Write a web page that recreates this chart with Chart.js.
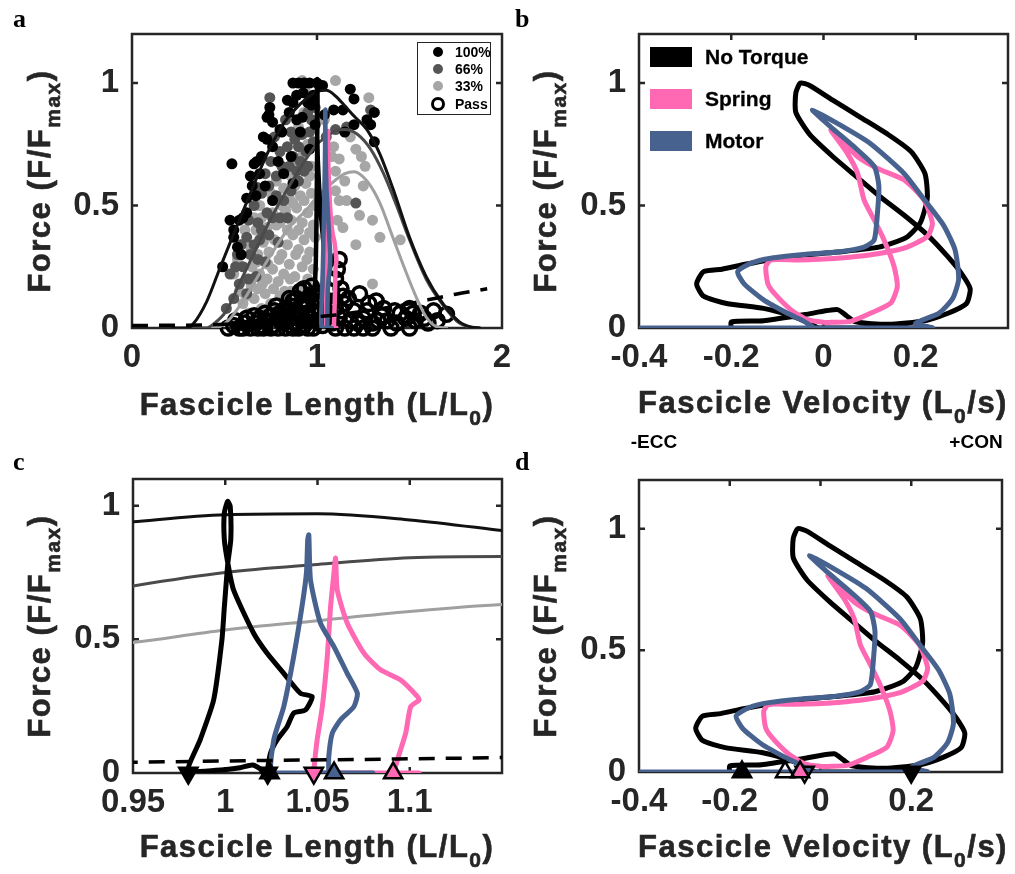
<!DOCTYPE html>
<html>
<head>
<meta charset="utf-8">
<script src="https://cdn.jsdelivr.net/npm/chart.js@4.4.0/dist/chart.umd.min.js"></script>
<style>
  body { margin: 0; background: #fff; }
  #fig { position: relative; width: 1015px; height: 874px; overflow: hidden; font-family: 'Liberation Sans', Arial, sans-serif; color: #262626; }
  canvas { position: absolute; left: 0; top: 0; }
  .t { position: absolute; font-weight: bold; white-space: nowrap; line-height: 1; z-index: 5; -webkit-text-stroke: 0.6px #262626; }
  .xt { font-size: 31px; letter-spacing: 1.5px; transform: translateX(-50%); }
  .yt { font-size: 31px; letter-spacing: 1.5px; transform: translate(-50%, -50%) rotate(-90deg); }
  .sub { font-size: 21px; position: relative; top: 10px; }
  .pan { position: absolute; font: bold 26px 'Liberation Serif', serif; color: #000; z-index: 5; }
  .dir { position: absolute; font-weight: bold; font-size: 19px; color: #000; z-index: 5; transform: translate(-50%, -50%); }
  #legA { position: absolute; left: 417px; top: 42px; width: 72px; height: 71px; border: 1.5px solid #262626; background: #fff; z-index: 5; }
  #legA .it { position: absolute; left: 0; font: bold 14px 'Liberation Sans', sans-serif; color: #000; }
  #legA .dot { position: absolute; border-radius: 50%; }
  #legA .lab { position: absolute; left: 37px; top: -8px; }
  .sw { position: absolute; width: 42px; height: 20px; z-index: 5; }
  .swl { position: absolute; font: bold 21px 'Liberation Sans', sans-serif; color: #000; z-index: 5; transform: translateY(-50%); -webkit-text-stroke: 0.3px #000; }
</style>
</head>
<body>
<div id="fig">
  <canvas id="ca" width="1015" height="874"></canvas>
  <canvas id="cb" width="1015" height="874"></canvas>
  <canvas id="cc" width="1015" height="874"></canvas>
  <canvas id="cd" width="1015" height="874"></canvas>

  <div class="pan" style="left:13px;top:4px">a</div>
  <div class="pan" style="left:515px;top:4px">b</div>
  <div class="pan" style="left:13px;top:447px">c</div>
  <div class="pan" style="left:515px;top:447px">d</div>

  <div class="t xt" style="left:317px;top:389px">Fascicle Length (L/L<span class="sub">0</span>)</div>
  <div class="t xt" style="left:823px;top:387px">Fascicle Velocity (L<span class="sub">0</span>/s)</div>
  <div class="t xt" style="left:317px;top:831px">Fascicle Length (L/L<span class="sub">0</span>)</div>
  <div class="t xt" style="left:823px;top:831px">Fascicle Velocity (L<span class="sub">0</span>/s)</div>

  <div class="t yt" style="left:39px;top:181px">Force (F/F<span class="sub">max</span>)</div>
  <div class="t yt" style="left:545px;top:181px">Force (F/F<span class="sub">max</span>)</div>
  <div class="t yt" style="left:39px;top:626px">Force (F/F<span class="sub">max</span>)</div>
  <div class="t yt" style="left:545px;top:626px">Force (F/F<span class="sub">max</span>)</div>

  <div class="dir" style="left:654px;top:442px">-ECC</div>
  <div class="dir" style="left:976px;top:442px">+CON</div>

  <div id="legA">
    <div class="it" style="top:9px"><div class="dot" style="left:15px;top:-5px;width:10px;height:10px;background:#000"></div><div class="lab">100%</div></div>
    <div class="it" style="top:26px"><div class="dot" style="left:15px;top:-5px;width:10px;height:10px;background:#555"></div><div class="lab">66%</div></div>
    <div class="it" style="top:43px"><div class="dot" style="left:15px;top:-5px;width:10px;height:10px;background:#a6a6a6"></div><div class="lab">33%</div></div>
    <div class="it" style="top:61px"><div class="dot" style="left:13px;top:-7px;width:8px;height:8px;border:3px solid #000"></div><div class="lab">Pass</div></div>
  </div>

  <div class="sw" style="left:650px;top:47px;background:#000"></div>
  <div class="swl" style="left:705px;top:57px">No Torque</div>
  <div class="sw" style="left:650px;top:89px;background:#ff69b4"></div>
  <div class="swl" style="left:705px;top:99px">Spring</div>
  <div class="sw" style="left:650px;top:131px;background:#48628f"></div>
  <div class="swl" style="left:705px;top:141px">Motor</div>
</div>

<script>
// ---- axes ----
const lengthTicksA = [0, 1, 2];
const lengthLabelsA = ['0', '1', '2'];
const lengthTicksC = [0.95, 1, 1.05, 1.1, 1.15];
const lengthLabelsC = ['0.95', '1', '1.05', '1.1', ''];
const velocityTicks = [-0.4, -0.2, 0, 0.2, 0.4];
const velocityLabels = ['-0.4', '-0.2', '0', '0.2', ''];
const forceTicks = [0, 0.5, 1];
const forceLabels = ['0', '0.5', '1'];

// ---- panel a scatter (L/L0, F/Fmax) ----
const act100 = [
  [0.87,1.0],[0.90,1.0],[0.93,1.0],[0.96,1.0],[1.0,1.0],[1.03,0.99],[0.925,0.96],
  [0.84,0.93],[0.89,0.95],[0.95,0.92],[0.98,0.95],[0.97,0.91],
  [1.18,0.975],[1.2,0.935],[1.14,0.89],[1.09,0.89],[1.04,0.87],[1.27,0.85],[1.31,0.88],[1.29,0.83],[1.31,0.76],[1.2,0.83],[1.15,0.80],
  [0.745,0.90],[0.74,0.87],[0.73,0.86],[0.76,0.84],[0.85,0.88],[0.87,0.92],[0.89,0.85],[0.80,0.81],[0.73,0.77],
  [0.71,0.78],[0.76,0.74],[0.81,0.80],[0.91,0.80],[0.96,0.73],[0.86,0.70],[0.82,0.63],[0.99,0.83],[0.92,0.86],
  [0.675,0.68],[0.64,0.62],[0.66,0.67],[0.69,0.63],[0.65,0.58],[0.62,0.53],[0.67,0.54],[0.72,0.58],[0.76,0.52],[0.87,0.59],[0.70,0.70],[0.79,0.68],
  [0.54,0.67],[0.58,0.44],[0.53,0.44],[0.55,0.40],[0.55,0.37],[0.59,0.30],[0.49,0.25],[0.60,0.45],[0.62,0.47],[0.57,0.33]
];
const act66 = [
  [0.745,0.94],[0.95,0.88],[0.97,0.85],[0.96,0.80],[0.98,0.76],[0.94,0.72],[0.90,0.74],[0.87,0.70],[0.85,0.66],[0.91,0.68],[0.88,0.77],[0.93,0.64],[0.99,0.90],[0.83,0.85],[0.77,0.78],
  [1.29,0.89],[1.21,0.51],[1.10,0.81],[1.16,0.82],[1.05,0.78],
  [0.80,0.72],[0.78,0.62],[0.74,0.58],[0.70,0.55],[0.675,0.575],[0.73,0.47],[0.68,0.43],[0.62,0.37],[0.64,0.30],[0.60,0.25],[0.58,0.18],[0.55,0.12],[0.51,0.08],[0.53,0.22],[0.57,0.30],[0.66,0.34],[0.70,0.40],[0.76,0.45],[0.82,0.52],[0.86,0.56],[0.79,0.35],[0.72,0.27],[0.67,0.21],[0.62,0.14],[0.84,0.45],[0.90,0.60],
  [0.56,0.25],[0.59,0.34],[0.63,0.44],[0.66,0.50],[0.69,0.36],[0.72,0.63],[0.75,0.68],[0.78,0.54],[0.81,0.66],[0.84,0.74],[0.86,0.80],[0.89,0.64],[0.92,0.79],[0.95,0.66],[0.97,0.93],[0.63,0.20],[0.68,0.28],[0.74,0.38],[0.80,0.45]
];
const act33 = [
  [0.92,1.01],[1.10,1.01],[1.28,0.94],[0.94,0.96],[1.04,0.85],[1.18,0.78],[1.21,0.73],[1.09,0.74],[1.08,0.70],[1.24,0.70],[1.26,0.66],[1.12,0.69],
  [1.10,0.64],[1.15,0.60],[1.25,0.58],[1.05,0.55],[1.10,0.56],[1.16,0.52],[1.12,0.52],[1.23,0.46],[1.30,0.44],[1.11,0.44],[1.14,0.41],[1.21,0.34],[1.34,0.37],[1.45,0.36],[1.30,0.18],[0.97,0.66],
  [0.60,0.10],[0.63,0.06],[0.66,0.12],[0.70,0.08],[0.68,0.16],[0.72,0.14],[0.75,0.10],[0.78,0.06],[0.80,0.13],[0.83,0.09],[0.86,0.15],[0.88,0.10],[0.91,0.07],[0.94,0.12],[0.97,0.09],
  [0.62,0.20],[0.65,0.25],[0.69,0.22],[0.73,0.20],[0.76,0.24],[0.79,0.19],[0.82,0.22],[0.85,0.26],[0.88,0.21],[0.92,0.25],[0.95,0.20],[0.98,0.24],
  [0.64,0.33],[0.68,0.30],[0.71,0.35],[0.74,0.31],[0.77,0.36],[0.81,0.30],[0.84,0.34],[0.87,0.38],[0.90,0.32],[0.93,0.36],[0.96,0.31],[0.99,0.37],
  [0.70,0.45],[0.73,0.41],[0.76,0.47],[0.80,0.43],[0.83,0.48],[0.86,0.44],[0.89,0.49],[0.92,0.43],[0.95,0.47],[0.98,0.42],
  [0.75,0.55],[0.79,0.52],[0.82,0.57],[0.85,0.53],[0.88,0.58],[0.91,0.54],[0.94,0.59],[0.97,0.55],
  [0.84,0.65],[0.88,0.68],[0.92,0.70],[0.95,0.75],[0.90,0.82],[0.93,0.88],[0.58,0.15],[0.57,0.28],[0.61,0.40],[0.67,0.40],
  [0.615,0.13],[0.645,0.17],[0.675,0.27],[0.705,0.18],[0.735,0.26],[0.765,0.16],[0.795,0.28],[0.825,0.15],[0.855,0.20],[0.885,0.30],[0.915,0.17],[0.945,0.28],[0.975,0.16],
  [0.72,0.38],[0.78,0.42],[0.84,0.40],[0.90,0.40],[0.96,0.39],[0.81,0.50],[0.87,0.51],[0.93,0.52],[0.99,0.50],[0.78,0.60],[0.86,0.62],[0.96,0.62],[0.66,0.45],[0.69,0.50],[0.59,0.34],[0.55,0.22],[0.65,0.04]
];
const passTrials = [
  [0.52,0.0],[0.55,0.01],[0.58,0.0],[0.61,0.02],[0.64,0.0],[0.67,0.02],[0.70,0.01],[0.73,0.03],[0.76,0.01],[0.79,0.04],[0.82,0.02],[0.85,0.05],[0.88,0.02],[0.91,0.06],[0.94,0.03],[0.97,0.07],[1.0,0.03],
  [0.60,0.0],[0.68,0.0],[0.75,0.0],[0.83,0.0],[0.90,0.0],[0.98,0.0],
  [0.80,0.06],[0.83,0.08],[0.86,0.09],[0.89,0.12],[0.93,0.10],[0.96,0.13],[0.99,0.11],[0.91,0.15],[0.88,0.07],[0.94,0.06],
  [0.56,0.03],[0.62,0.04],[0.66,0.05],[0.69,0.04],[0.72,0.06],[0.75,0.05],[0.77,0.07],[0.80,0.03],[0.84,0.04],[0.87,0.11],[0.92,0.09],[0.95,0.10],[0.98,0.14],[0.96,0.04],[0.93,0.01],[0.86,0.01],
  [0.71,0.0],[0.79,0.0],[0.87,0.0],[0.95,0.0],[0.90,0.04],[0.82,0.05],[0.78,0.09],[0.85,0.12],[0.97,0.17],[0.93,0.16],
  [1.02,0.07],[1.04,0.12],[1.03,0.01],[1.07,0.06],[1.09,0.11],[1.14,0.13],[1.13,0.07],[1.17,0.12],[1.22,0.02],[1.27,0.07],[1.33,0.03],[1.36,0.08],[1.43,0.02],[1.52,0.06],[1.58,0.04],[1.65,0.03],[1.63,0.07],
  [1.05,0.05],[1.08,0.02],[1.10,0.08],[1.12,0.04],[1.15,0.10],[1.18,0.03],[1.20,0.07],[1.23,0.14],[1.25,0.04],[1.28,0.10],[1.32,0.11],[1.30,0.02],[1.35,0.05],[1.38,0.03],[1.42,0.07],[1.45,0.06],[1.48,0.04],[1.50,0.08],[1.53,0.03],[1.56,0.06],[1.60,0.02],[1.70,0.056],
  [1.10,0.0],[1.15,0.0],[1.20,0.0],[1.25,0.0],[1.30,0.0],[1.40,0.0],[1.50,0.0],
  [1.12,0.28],[1.11,0.24],[1.10,0.20],[1.08,0.15],[1.06,0.10],[1.13,0.16]
];

// ---- force-length fits ----
const fl100 = [[0.22,0],[0.30,0],[0.33,0.016],[0.405,0.11],[0.476,0.246],[0.55,0.385],[0.64,0.55],[0.73,0.71],[0.82,0.835],[0.91,0.915],[0.95,0.94],[1.0,0.966],[1.05,0.97],[1.1,0.947],[1.15,0.907],[1.2,0.865],[1.27,0.81],[1.34,0.71],[1.41,0.57],[1.5,0.37],[1.59,0.21],[1.68,0.1],[1.77,0.025],[1.84,0.003],[1.88,0]];
const fl66 = [[0.3,0],[0.4,0],[0.44,0.016],[0.51,0.07],[0.58,0.18],[0.675,0.33],[0.76,0.46],[0.85,0.58],[0.95,0.70],[1.0,0.75],[1.05,0.78],[1.1,0.805],[1.15,0.81],[1.22,0.79],[1.29,0.73],[1.36,0.63],[1.43,0.5],[1.5,0.36],[1.59,0.2],[1.68,0.095],[1.77,0.02],[1.84,0.002],[1.88,0]];
const fl33 = [[0.27,0],[0.45,0],[0.52,0.03],[0.6,0.11],[0.68,0.21],[0.76,0.31],[0.85,0.41],[0.95,0.488],[1.0,0.535],[1.05,0.57],[1.1,0.604],[1.15,0.63],[1.2,0.638],[1.27,0.6],[1.34,0.51],[1.41,0.37],[1.47,0.25],[1.54,0.12],[1.59,0.045],[1.64,0.008],[1.7,0]];
const flPassive = [[0,0.01],[0.5,0.015],[0.9,0.036],[1.0,0.045],[1.1,0.053],[1.2,0.063],[1.3,0.074],[1.45,0.092],[1.6,0.115],[1.75,0.138],[1.92,0.16]];

// ---- gait loops: length vs force ----
const lenNoTorque = [[1.0227,0],[1.015,0.03],[1.008,0.02],[0.995,0.01],[0.98,0.01],[0.9864,0.124],[0.9937,0.273],[0.9982,0.498],[0.9995,0.62],[1.0014,0.785],[1.003,0.873],[1.0027,0.997],[1.0013,1.016],[0.9995,0.973],[0.9995,0.873],[1.0014,0.785],[1.0045,0.685],[1.0154,0.523],[1.0227,0.448],[1.0317,0.373],[1.0408,0.298],[1.0471,0.286],[1.0435,0.236],[1.0371,0.224],[1.0335,0.173],[1.0281,0.124],[1.0245,0.074],[1.0227,0.005]];
const lenSpring = [[1.105,0],[1.048,0],[1.048,0.011],[1.0498,0.124],[1.0526,0.248],[1.0553,0.436],[1.0571,0.623],[1.0589,0.748],[1.0598,0.804],[1.0607,0.685],[1.0661,0.561],[1.0752,0.448],[1.0842,0.386],[1.0951,0.348],[1.1042,0.286],[1.105,0.273],[1.1005,0.248],[1.0978,0.149],[1.0933,0.049],[1.0915,0.005]];
const lenMotor = [[1.08,0],[1.026,0],[1.0263,0.124],[1.0317,0.248],[1.0371,0.436],[1.0416,0.623],[1.044,0.748],[1.0447,0.873],[1.0453,0.891],[1.0462,0.723],[1.0516,0.561],[1.0589,0.473],[1.0661,0.373],[1.0716,0.298],[1.0697,0.248],[1.0625,0.199],[1.058,0.149],[1.0561,0.061],[1.0561,0]];

// ---- gait loops: velocity vs force ----
const velNoTorque = [[-0.2,0],[-0.2,0.025],[-0.13,0.03],[-0.04,0.055],[0.03,0.075],[0.05,0.05],[0.07,0.025],[0.14,0.015],[0.22,0.03],[0.27,0.06],[0.31,0.10],[0.318,0.16],[0.30,0.22],[0.27,0.29],[0.225,0.38],[0.175,0.46],[0.12,0.54],[0.07,0.62],[0.02,0.70],[-0.03,0.79],[-0.06,0.88],[-0.06,0.96],[-0.05,1.0],[-0.03,0.99],[0.02,0.93],[0.08,0.86],[0.14,0.79],[0.19,0.72],[0.22,0.63],[0.225,0.53],[0.21,0.43],[0.18,0.37],[0.12,0.33],[0.03,0.31],[-0.08,0.29],[-0.17,0.26],[-0.22,0.24],[-0.26,0.23],[-0.275,0.18],[-0.26,0.13],[-0.21,0.10],[-0.13,0.08],[-0.07,0.05],[-0.03,0.02],[-0.01,0],[0.23,0]];
const velSpring = [[0.016,0.023],[0.059,0.027],[0.103,0.061],[0.146,0.102],[0.160,0.170],[0.153,0.251],[0.131,0.360],[0.110,0.441],[0.088,0.522],[0.074,0.631],[0.052,0.712],[0.016,0.807],[0.045,0.753],[0.074,0.699],[0.117,0.651],[0.175,0.604],[0.218,0.522],[0.236,0.427],[0.225,0.373],[0.175,0.326],[0.103,0.299],[0.030,0.285],[-0.056,0.278],[-0.114,0.278],[-0.125,0.251],[-0.121,0.183],[-0.107,0.142],[-0.071,0.075],[-0.035,0.034],[0.001,0.023],[0.016,0.023]];
const velMotor = [[-0.396,0],[0.236,0],[0.2,0.02],[0.25,0.06],[0.28,0.12],[0.293,0.2],[0.285,0.32],[0.26,0.42],[0.22,0.52],[0.175,0.63],[0.10,0.755],[0.03,0.835],[-0.024,0.89],[0.016,0.82],[0.066,0.74],[0.11,0.66],[0.12,0.58],[0.117,0.47],[0.11,0.36],[0.088,0.33],[0.03,0.31],[-0.042,0.30],[-0.114,0.285],[-0.157,0.265],[-0.186,0.23],[-0.172,0.18],[-0.13,0.115],[-0.078,0.06],[-0.042,0.027],[-0.02,0]];

// ---- on/off markers (triangles at zero force) ----
const cBlackDown = [[0.98,0],[1.023,0]];
const cBlackUp = [[1.024,0]];
const cSpringDown = [[1.048,0]];
const cMotorUp = [[1.059,0]];
const cSpringUp = [[1.091,0]];
const dBlackUp = [[-0.173,0]];
const dBlackDown = [[0.2,0]];
const dMotorUp = [[-0.078,0]];
const dSpringUp = [[-0.045,0]];
const dMotorDown = [[-0.035,0]];

const BLACK = '#000000', PINK = '#ff69b4', BLUE = '#48628f';
const DARK = '#555555', LIGHT = '#a6a6a6';
const AXIS = '#262626';
const W = 1015, H = 874, YW = 120, XH = 90;

const xy = pairs => pairs.map(p => ({ x: p[0], y: p[1] }));

// draws the frame and inward tick marks (matlab style)
const boxPlugin = {
  id: 'box',
  beforeDatasetsDraw(chart, args, opts) {
    const { ctx, chartArea: a, scales } = chart;
    ctx.save();
    ctx.strokeStyle = AXIS;
    ctx.lineWidth = 2.5;
    ctx.strokeRect(a.left, a.top, a.right - a.left, a.bottom - a.top);
    ctx.beginPath();
    opts.xTicks.forEach(v => {
      const p = scales.x.getPixelForValue(v);
      if (p < a.left + 3 || p > a.right - 3) return;
      ctx.moveTo(p, a.bottom); ctx.lineTo(p, a.bottom - 6);
      ctx.moveTo(p, a.top); ctx.lineTo(p, a.top + 6);
    });
    opts.yTicks.forEach(v => {
      const p = scales.y.getPixelForValue(v);
      if (p < a.top + 3 || p > a.bottom - 3) return;
      ctx.moveTo(a.left, p); ctx.lineTo(a.left + 6, p);
      ctx.moveTo(a.right, p); ctx.lineTo(a.right - 6, p);
    });
    ctx.stroke();
    ctx.restore();
  }
};

function axis(min, max, ticks, labels, horizontal) {
  return {
    type: 'linear', min, max,
    afterBuildTicks: s => { s.ticks = ticks.map(v => ({ value: v })); },
    afterFit: s => {
      if (horizontal) s.height = XH; else s.width = YW;
      s.paddingLeft = s.paddingRight = s.paddingTop = s.paddingBottom = 0;
    },
    grid: { display: false, drawTicks: false },
    border: { display: false },
    ticks: {
      callback: (v, i) => labels[i],
      font: { family: 'Liberation Sans', size: 33, weight: 'bold' },
      color: AXIS, padding: horizontal ? 10 : 13,
      maxRotation: 0, autoSkip: false
    }
  };
}

function lineDs(pairs, color, width, order, extra) {
  return Object.assign({
    data: xy(pairs), showLine: true, borderColor: color, borderWidth: width,
    pointRadius: 0, fill: false, order, tension: 0.2,
    borderJoinStyle: 'round', borderCapStyle: 'round'
  }, extra || {});
}
function curveDs(pairs, color, order) {
  return lineDs(pairs, color, 3, order, { cubicInterpolationMode: 'monotone' });
}
function passiveDs(order) {
  return lineDs(flPassive, BLACK, 3.5, order, { cubicInterpolationMode: 'monotone', borderDash: [16, 11], borderCapStyle: 'butt' });
}
function dotsDs(pairs, color, order) {
  return { data: xy(pairs), showLine: false, pointRadius: 5.5, backgroundColor: color, borderWidth: 0, order, clip: false };
}
function markDs(pairs, fill, down, order) {
  return {
    data: xy(pairs), showLine: false, pointStyle: 'triangle', pointRadius: 10.5,
    pointRotation: down ? 180 : 0, backgroundColor: fill, borderColor: BLACK,
    borderWidth: 2.5, order, clip: false
  };
}

function makeChart(id, area, xr, yr, datasets) {
  return new Chart(document.getElementById(id), {
    type: 'scatter',
    data: { datasets },
    options: {
      responsive: false, animation: false, events: [],
      layout: { padding: { left: area[0] - YW, top: area[1], right: W - area[2], bottom: H - area[3] - XH } },
      scales: {
        x: axis(xr[0], xr[1], xr[2], xr[3], true),
        y: axis(yr[0], yr[1], yr[2], yr[3], false)
      },
      plugins: { legend: { display: false }, tooltip: { enabled: false }, box: { xTicks: xr[2], yTicks: yr[2] } }
    },
    plugins: [boxPlugin]
  });
}

const forceAxisWide = [0, 1.2, forceTicks, forceLabels];

// a: force-length relationship with trial data
makeChart('ca', [132, 34, 502, 328], [0, 2, lengthTicksA, lengthLabelsA], forceAxisWide, [
  dotsDs(act33, LIGHT, 20),
  dotsDs(act66, DARK, 19),
  dotsDs(act100, BLACK, 18),
  { data: xy(passTrials), showLine: false, pointRadius: 7, backgroundColor: 'rgba(0,0,0,0)', borderColor: BLACK, borderWidth: 3.5, order: 17, clip: false },
  curveDs(fl33, '#a0a0a0', 12),
  curveDs(fl66, '#4a4a4a', 11),
  curveDs(fl100, '#111111', 10),
  lineDs(lenNoTorque, BLACK, 4.5, 4),
  lineDs(lenSpring, PINK, 4.5, 3),
  lineDs(lenMotor, BLUE, 4.5, 2),
  passiveDs(1)
]);

// b: force-velocity loops
makeChart('cb', [639, 34, 1008, 328], [-0.4, 0.4, velocityTicks, velocityLabels], forceAxisWide, [
  lineDs(velNoTorque, BLACK, 5, 4),
  lineDs(velSpring, PINK, 5, 3),
  lineDs(velMotor, BLUE, 5, 2)
]);

// c: zoom on operating lengths
makeChart('cc', [133, 479, 502, 773], [0.95, 1.15, lengthTicksC, lengthLabelsC], [0, 1.1, forceTicks, forceLabels], [
  curveDs(fl33, '#a0a0a0', 12),
  curveDs(fl66, '#4a4a4a', 11),
  curveDs(fl100, '#111111', 10),
  lineDs(lenNoTorque, BLACK, 5, 4),
  lineDs(lenSpring, PINK, 5, 3),
  lineDs(lenMotor, BLUE, 5, 2),
  passiveDs(1),
  markDs(cBlackDown, BLACK, true, -1),
  markDs(cBlackUp, BLACK, false, -1),
  markDs(cSpringDown, PINK, true, -1),
  markDs(cMotorUp, BLUE, false, -1),
  markDs(cSpringUp, PINK, false, -1)
]);

// d: force-velocity loops with markers
makeChart('cd', [639, 480, 1008, 772], [-0.4, 0.4, velocityTicks, velocityLabels], forceAxisWide, [
  lineDs(velNoTorque, BLACK, 5, 4),
  lineDs(velSpring, PINK, 5, 3),
  lineDs(velMotor, BLUE, 5, 2),
  markDs(dBlackUp, BLACK, false, -1),
  markDs(dBlackDown, BLACK, true, -1),
  markDs(dMotorUp, 'rgba(0,0,0,0)', false, -1),
  markDs(dSpringUp, PINK, false, -1),
  markDs(dMotorDown, 'rgba(0,0,0,0)', true, -1)
]);
</script>
</body>
</html>
